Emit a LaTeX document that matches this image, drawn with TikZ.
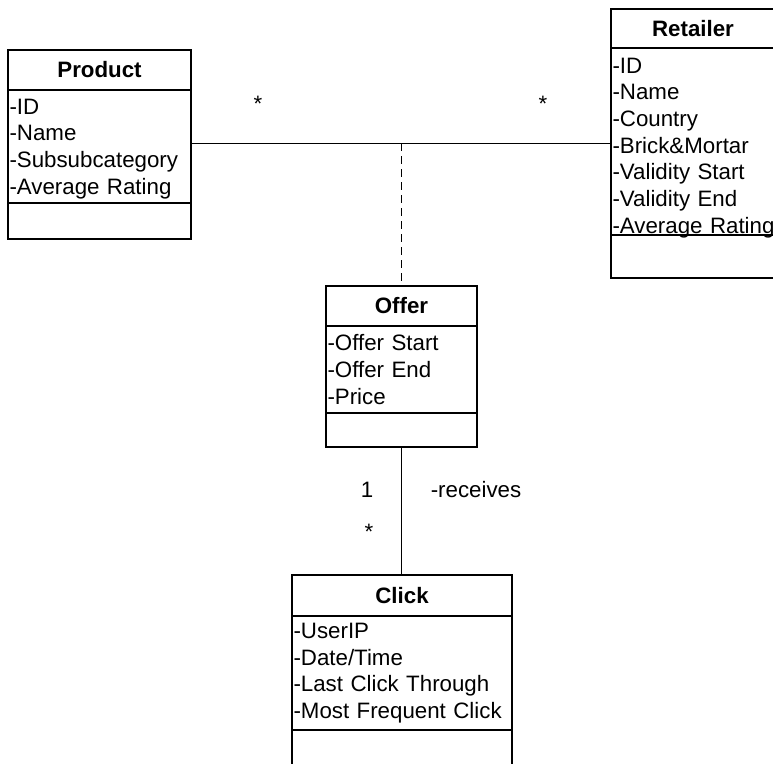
\documentclass[tikz,border=0pt]{standalone}
\usepackage{fontspec}
\setmainfont{Liberation Sans}
\usepackage{tikz}
\usetikzlibrary{positioning,calc}

\tikzset{
  umltext/.style={font=\fontsize{22.3}{26.7}\selectfont},
  clshead/.style={draw, line width=2pt, inner sep=0pt, outer sep=0pt, minimum height=40pt, umltext, font=\fontsize{22.3}{26.7}\selectfont\bfseries},
  clsattr/.style={draw, line width=2pt, inner xsep=1.5pt, inner ysep=0pt, outer sep=0pt, align=left, umltext},
  clsmeth/.style={draw, line width=2pt, inner sep=0pt, outer sep=0pt},
  mult/.style={inner sep=0pt, umltext},
  assoc/.style={line width=1pt},
}

\begin{document}
\begin{tikzpicture}[x=1pt,y=-1pt]
    \useasboundingbox (0,0) rectangle (773,763);
    \clip (0,0) rectangle (773,763);
    % Product
    \node[clshead, minimum width=183pt, anchor=north west] (prodH) at (8,50) {Product};
    \node[clsattr, minimum width=183pt, text width=180pt, minimum height=113pt, text height=20pt, below=0pt of prodH] (prodA) {-ID\\-Name\\-Subsubcategory\\-Average Rating};
    \node[clsmeth, minimum width=183pt, minimum height=36pt, below=0pt of prodA] (prodM) {};
    % Retailer
    \node[clshead, minimum width=164pt, minimum height=39pt, anchor=north west] (retH) at (611,9) {Retailer};
    \node[clsattr, minimum width=164pt, text width=161pt, minimum height=187pt, text height=25pt, text depth=162pt, below=0pt of retH] (retA) {-ID\\-Name\\-Country\\-Brick\&Mortar\\-Validity Start\\-Validity End\\\mbox{-Average Rating}};
    \node[clsmeth, minimum width=164pt, minimum height=43pt, below=0pt of retA] (retM) {};
    % Offer
    \node[clshead, minimum width=151pt, anchor=north west] (offH) at (326,286) {Offer};
    \node[clsattr, minimum width=151pt, text width=148pt, minimum height=87pt, below=0pt of offH] (offA) {-Offer Start\\-Offer End\\-Price};
    \node[clsmeth, minimum width=151pt, minimum height=34pt, below=0pt of offA] (offM) {};
    % Click
    \node[clshead, minimum width=220pt, minimum height=41pt, anchor=north west] (clkH) at (292,575) {Click};
    \node[clsattr, minimum width=220pt, text width=217pt, minimum height=114pt, below=0pt of clkH] (clkA) {-UserIP\\-Date/Time\\-Last Click Through\\-Most Frequent Click};
    \node[clsmeth, minimum width=220pt, minimum height=40pt, below=0pt of clkA] (clkM) {};
    % associations
    \coordinate (mid) at (401,143);
    \draw[assoc] (prodA.east |- mid) -- (retA.west |- mid);
    \draw[assoc, dash pattern=on 8pt off 5pt] (mid) -- (mid |- offH.north);
    \draw[assoc] (offM.south) -- (offM.south |- clkH.north);
    % multiplicities
    \node[mult] (mProd) at (258,104) {*};
    \node[mult] (mRet) at (543,104) {*};
    \node[mult] (mOne) at (367,490) {1};
    \node[mult] (mClk) at (369,532) {*};
    \node[mult] (recv) at (476,490) {-receives};
  \end{tikzpicture}
\end{document}
